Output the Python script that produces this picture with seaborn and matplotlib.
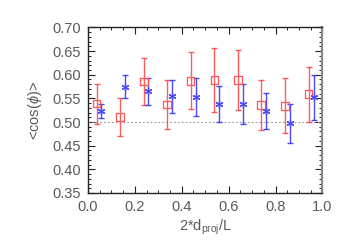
import matplotlib
matplotlib.use("Agg")
import matplotlib.pyplot as plt
import seaborn as sns
import numpy as np
from matplotlib.ticker import MultipleLocator

# values
red_x = [0.037, 0.136, 0.240, 0.338, 0.438, 0.539, 0.640, 0.739, 0.840, 0.941]
red_y = [0.539, 0.511, 0.586, 0.537, 0.587, 0.589, 0.589, 0.536, 0.534, 0.559]
red_hi = [0.581, 0.551, 0.636, 0.589, 0.648, 0.657, 0.653, 0.589, 0.592, 0.616]
red_lo = [0.496, 0.470, 0.536, 0.486, 0.527, 0.521, 0.525, 0.484, 0.477, 0.500]

blue_x = [0.057, 0.156, 0.257, 0.358, 0.459, 0.559, 0.661, 0.760, 0.861, 0.962]
blue_y = [0.524, 0.575, 0.565, 0.554, 0.553, 0.538, 0.538, 0.524, 0.498, 0.553]
blue_hi = [0.539, 0.600, 0.592, 0.589, 0.592, 0.576, 0.581, 0.562, 0.538, 0.600]
blue_lo = [0.508, 0.551, 0.536, 0.520, 0.512, 0.499, 0.496, 0.485, 0.456, 0.505]

x_ticks = [0.0, 0.2, 0.4, 0.6, 0.8, 1.0]
y_ticks = [0.35, 0.40, 0.45, 0.50, 0.55, 0.60, 0.65, 0.70]

sns.set_style("ticks")
plt.rcParams['font.family'] = ['Liberation Sans', 'DejaVu Sans']
plt.rcParams['mathtext.fontset'] = 'custom'
plt.rcParams['mathtext.rm'] = 'Liberation Sans'
plt.rcParams['mathtext.it'] = 'Liberation Sans:italic'
txt = "#5a5a5a"

fig = plt.figure(figsize=(3.49, 2.49), dpi=100)
ax = fig.add_axes([0.252, 0.225, 0.672, 0.665])

# red squares with errorbars
ry = np.array(red_y)
ax.errorbar(red_x, red_y, yerr=[ry - np.array(red_lo), np.array(red_hi) - ry],
            fmt="none", ecolor="#ff3333", elinewidth=1.0, capsize=2.5, capthick=1.0, alpha=0.8)
sns.scatterplot(x=red_x, y=red_y, marker="s", s=30, facecolor="none",
                edgecolor="#ff5555", linewidth=0.9, ax=ax, zorder=3)

# blue stars with errorbars
by = np.array(blue_y)
ax.errorbar(blue_x, blue_y, yerr=[by - np.array(blue_lo), np.array(blue_hi) - by],
            fmt="none", ecolor="#2a2aff", elinewidth=1.0, capsize=2.5, capthick=1.0, alpha=0.85)
ax.scatter(blue_x, blue_y, marker=(6, 2, 0), s=24, color="#4a4aff",
           linewidths=0.9, zorder=3)

ax.axhline(0.5, color="#999999", linestyle=(0, (1.5, 2)), linewidth=0.8, zorder=1)

ax.set_xlim(0, 1)
ax.set_ylim(0.35, 0.70)
ax.set_xticks(x_ticks)
ax.set_yticks(y_ticks)
ax.set_xticklabels([f"{v:.1f}" for v in x_ticks])
ax.set_yticklabels([f"{v:.2f}" for v in y_ticks])
ax.xaxis.set_minor_locator(MultipleLocator(0.05))
ax.yaxis.set_minor_locator(MultipleLocator(0.01))
ax.tick_params(which="both", direction="in", top=True, right=True, colors="#222222",
               labelcolor=txt, labelsize=10.5)
ax.tick_params(which="major", length=5, width=0.8, pad=5)
ax.tick_params(which="minor", length=2.5, width=0.7)
for sp in ax.spines.values():
    sp.set_color("#222222")
    sp.set_linewidth(1.0)
ax.spines["right"].set_color("#888888")
ax.spines["right"].set_linewidth(1.6)

ax.set_xlabel(r"2*d$_{\rm proj}$/L", color=txt, fontsize=10.5, labelpad=3)
ax.set_ylabel(r"<cos($\phi$)>", color=txt, fontsize=10.5, labelpad=6)

fig.savefig("out.png", dpi=100)
